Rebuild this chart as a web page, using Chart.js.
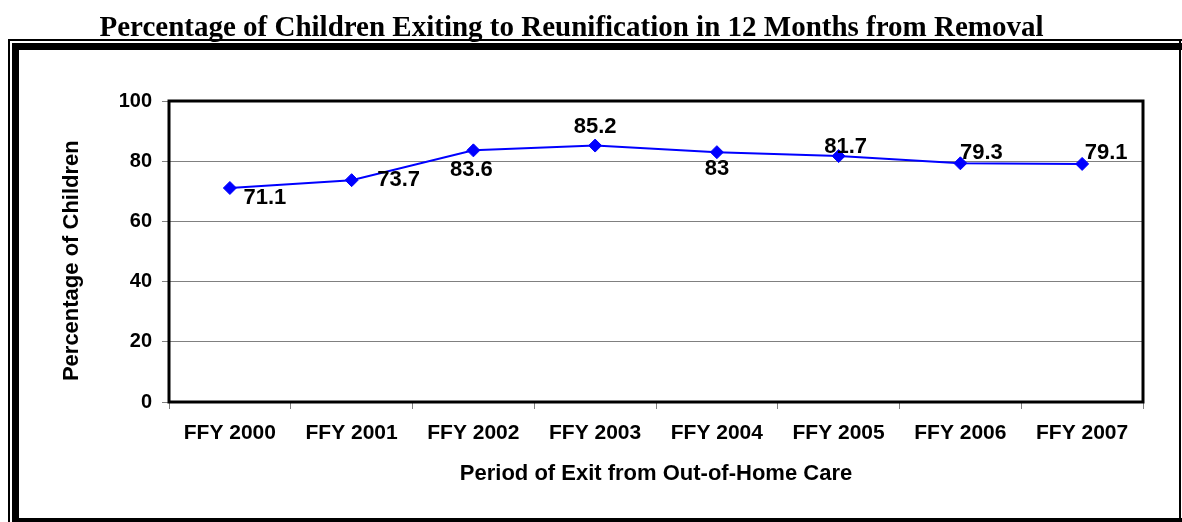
<!DOCTYPE html>
<html>
<head>
<meta charset="utf-8">
<script src="https://cdn.jsdelivr.net/npm/chart.js@4.4.0/dist/chart.umd.min.js"></script>
<style>
  html, body { margin: 0; padding: 0; background: #fff; }
  #wrap { width: 1182px; height: 522px; position: relative; }
</style>
</head>
<body>
<div id="wrap"><canvas id="chart" width="1182" height="522"></canvas></div>
<script>
// Reunification within 12 months, by federal fiscal year of exit
const periods = ["FFY 2000", "FFY 2001", "FFY 2002", "FFY 2003", "FFY 2004", "FFY 2005", "FFY 2006", "FFY 2007"];
const pctValues = [71.1, 73.7, 83.6, 85.2, 83, 81.7, 79.3, 79.1];
const pctTicks = [0, 20, 40, 60, 80, 100];

// where each value label sits relative to its point (dx, dy in px)
const labelShift = [[35, 10], [47, 0], [-2, 20], [0, -19], [0, 17], [7, -9], [21, -10], [24, -11]];

const SANS = "'Liberation Sans', Arial, sans-serif";
const SERIF = "'Liberation Serif', 'Times New Roman', serif";

Chart.defaults.color = "#000";
Chart.defaults.font.family = SANS;

// outer double frame + heavy plot border
const framePlugin = {
  id: "frame",
  afterDraw(chart){
    const ctx = chart.ctx, a = chart.chartArea;
    ctx.save();
    ctx.fillStyle = "#000";
    // thin outer line
    ctx.fillRect(8, 39, 2, 483);
    ctx.fillRect(8, 39, 1174, 2);
    ctx.fillRect(1179, 39, 2, 483);
    // thick inner band
    ctx.fillRect(12, 43, 7, 479);
    ctx.fillRect(12, 43, 1170, 7);
    ctx.fillRect(12, 518, 1170, 4);
    // plot area border
    ctx.lineWidth = 3;
    ctx.strokeStyle = "#000";
    ctx.strokeRect(a.left, a.top, a.right - a.left, a.bottom - a.top);
    ctx.restore();
  }
};

const valueLabels = {
  id: "valueLabels",
  afterDatasetsDraw(chart){
    const ctx = chart.ctx;
    const meta = chart.getDatasetMeta(0);
    ctx.save();
    ctx.font = "bold 22px " + SANS;
    ctx.fillStyle = "#000";
    ctx.textAlign = "center";
    ctx.textBaseline = "middle";
    meta.data.forEach((pt, i) => {
      const [dx, dy] = labelShift[i];
      ctx.fillText(String(pctValues[i]), pt.x + dx, pt.y + dy);
    });
    ctx.restore();
  }
};

new Chart(document.getElementById("chart"), {
  type: "line",
  data: {
    labels: periods,
    datasets: [{
      data: pctValues,
      borderColor: "#0000ff",
      backgroundColor: "#0000ff",
      borderWidth: 2,
      pointStyle: "rectRot",
      pointRadius: 6.5,
      pointBorderWidth: 1,
      pointBorderColor: "#0000ff",
      pointBackgroundColor: "#0000ff",
      tension: 0,
      fill: false
    }]
  },
  options: {
    responsive: false,
    animation: false,
    devicePixelRatio: 1,
    layout: { padding: { left: 0, right: 39, top: 0, bottom: 0 } },
    plugins: {
      legend: { display: false },
      tooltip: { enabled: false },
      title: {
        display: true,
        text: "Percentage of Children Exiting to Reunification in 12 Months from Removal",
        font: { family: SERIF, size: 29, weight: "bold" },
        color: "#000",
        padding: { top: 11, bottom: 55.2 }
      }
    },
    scales: {
      x: {
        offset: true,
        grid: { offset: true, drawOnChartArea: false, drawTicks: true, tickLength: 7, color: "#808080" },
        border: { display: false },
        ticks: { font: { size: 21, weight: "bold" }, padding: 11.4, maxRotation: 0, autoSkip: false },
        title: {
          display: true,
          text: "Period of Exit from Out-of-Home Care",
          font: { size: 22, weight: "bold" },
          padding: { top: 0, bottom: 34.8 }
        },
        afterFit(scale){ scale.height = 120; }
      },
      y: {
        min: 0,
        max: 100,
        afterBuildTicks(scale){ scale.ticks = pctTicks.map(v => ({ value: v })); },
        grid: { color: "#808080", lineWidth: 1, tickLength: 7 },
        border: { display: false },
        ticks: { font: { size: 20, weight: "bold" }, padding: 10 },
        title: {
          display: true,
          // trailing spaces nudge the rotated title down a little, as in the original
          text: "Percentage of Children   ",
          font: { size: 22, weight: "bold" },
          padding: { top: 58.8, bottom: 0 }
        },
        afterFit(scale){ scale.width = 169; }
      }
    }
  },
  plugins: [framePlugin, valueLabels]
});
</script>
</body>
</html>
